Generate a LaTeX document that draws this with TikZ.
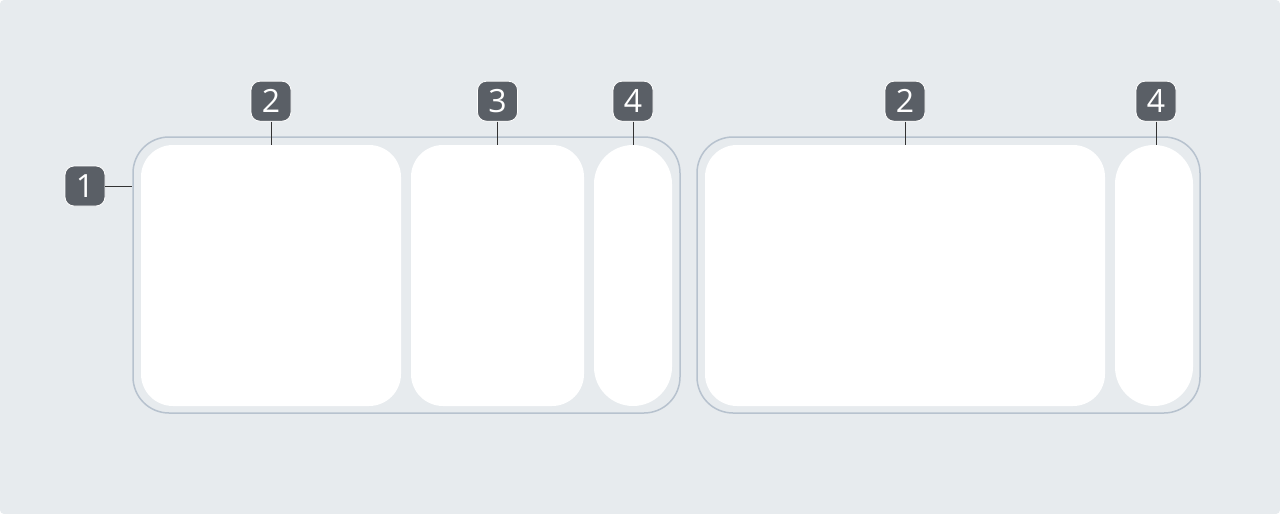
\documentclass[tikz,border=0pt]{standalone}
\usepackage{fontspec}
\setmainfont{Open Sans}
\usetikzlibrary{positioning}
\definecolor{bgcol}{HTML}{E7EBEE}
\definecolor{framecol}{HTML}{B7C2CE}
\definecolor{badgecol}{HTML}{5A5F66}
\tikzstyle{frame} = [draw=framecol, line width=0.75pt, fill=bgcol, rectangle, rounded corners=18pt, minimum height=138pt]
\tikzstyle{panel} = [fill=white, rectangle, rounded corners=16pt, minimum height=130.5pt]
\tikzstyle{pill} = [fill=white, rectangle, rounded corners=19.5pt, minimum height=130.5pt, minimum width=39pt]
\tikzstyle{badge} = [fill=badgecol, draw=white, line width=0.4pt, rounded corners=4.5pt, minimum width=20pt, minimum height=20pt, inner sep=0pt, text=white, font=\fontsize{16}{16}\selectfont]
\tikzstyle{leader} = [draw=black!80, line width=0.5pt]

\begin{document}
\begin{tikzpicture}[x=0.5pt, y=-0.5pt, node distance=11.5pt]
        % fond
        \fill[bgcol, rounded corners=2pt] (0,0) rectangle (1280,514);
        % cadres
        \node [frame, minimum width=273.5pt] (fL) at (406.5,275) {};
        \node [frame, minimum width=251.5pt] (fR) at (948.5,275) {};
        % panneaux du cadre gauche
        \node [panel, minimum width=130pt] (pA) at (271,275.5) {};
        \node [panel, minimum width=86.5pt] (pB) at (497.5,275.5) {};
        \node [pill] (pC) at (633,275.5) {};
        % panneaux du cadre droit
        \node [panel, minimum width=200pt] (pD) at (905,275.5) {};
        \node [pill] (pE) at (1154,275.5) {};
        % pastilles
        \node [badge] (b1) at (85,186) {1};
        \node [badge, above=of pA] (b2) {2};
        \node [badge, above=of pB] (b3) {3};
        \node [badge, above=of pC] (b4) {4};
        \node [badge, above=of pD] (b5) {2};
        \node [badge, above=of pE, xshift=1pt] (b6) {4};
        % traits de rappel
        \draw [leader] (b1.east) -- (b1.east -| fL.west);
        \draw [leader] (b2) -- (pA);
        \draw [leader] (b3) -- (pB);
        \draw [leader] (b4) -- (pC);
        \draw [leader] (b5) -- (pD);
        \draw [leader] (b6.south) -- (b6.south |- pE.north);
\end{tikzpicture}
\end{document}
